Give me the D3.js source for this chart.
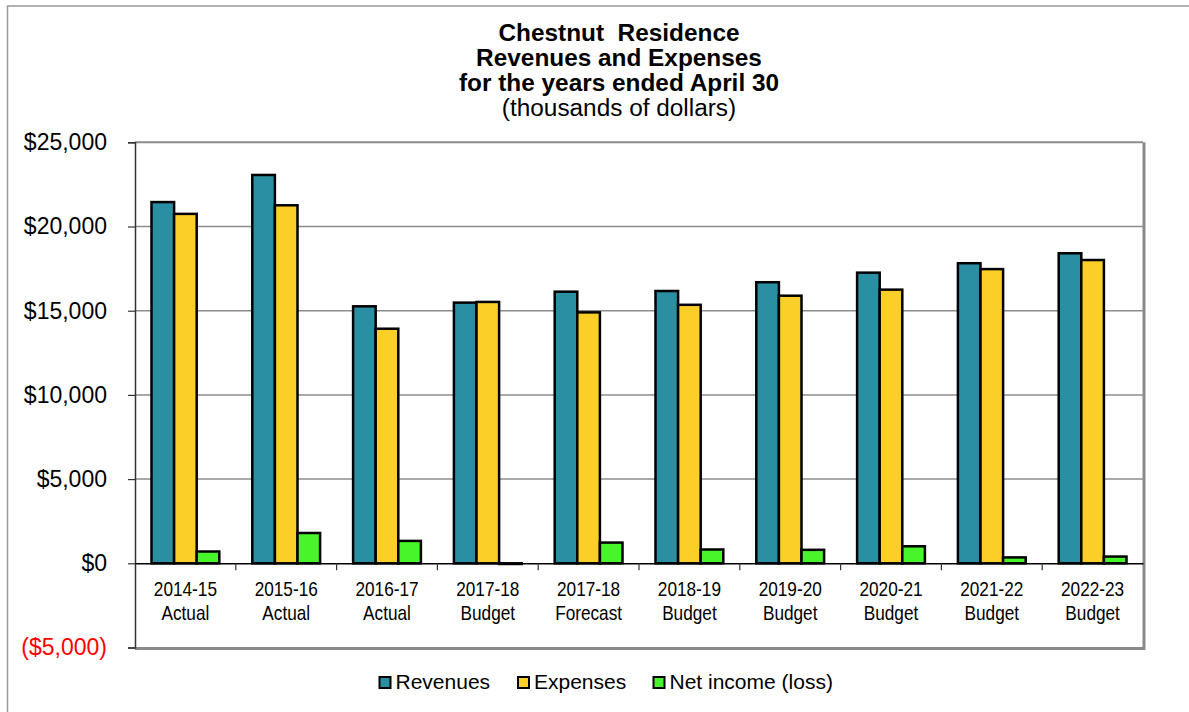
<!DOCTYPE html>
<html>
<head>
<meta charset="utf-8">
<script src="https://cdn.jsdelivr.net/npm/d3@7"></script>
<style>
  html, body { margin: 0; padding: 0; background: #fff; }
  svg { display: block; font-family: "Liberation Sans", Arial, sans-serif; }
  text { white-space: pre; }
</style>
</head>
<body>
<svg id="chart" width="1189" height="712"></svg>
<script>
// Fiscal periods (two-line labels)
const periods = ["2014-15", "2015-16", "2016-17", "2017-18", "2017-18", "2018-19", "2019-20", "2020-21", "2021-22", "2022-23"];
const periodTypes = ["Actual", "Actual", "Actual", "Budget", "Forecast", "Budget", "Budget", "Budget", "Budget", "Budget"];

// Values in thousands of dollars
const revenues = [21450, 23060, 15260, 15480, 16130, 16170, 16690, 17260, 17820, 18410];
const expenses = [20750, 21260, 13930, 15520, 14900, 15350, 15890, 16250, 17470, 18010];
const netIncome = [700, 1800, 1330, -40, 1230, 820, 800, 1010, 350, 400];

const seriesNames = ["Revenues", "Expenses", "Net income (loss)"];
const seriesColors = ["#2A8FA3", "#FCCE28", "#48F52B"];
const yTicks = [-5000, 0, 5000, 10000, 15000, 20000, 25000];

const titleLines = ["Chestnut  Residence", "Revenues and Expenses", "for the years ended April 30"];
const subtitle = "(thousands of dollars)";

const svg = d3.select("#chart");
const plot = { left: 135, right: 1143, top: 142.3, bottom: 647.5 };

// Outer frame
svg.append("rect")
  .attr("x", 7.5).attr("y", 6).attr("width", 1200).attr("height", 720)
  .attr("fill", "none").attr("stroke", "#999").attr("stroke-width", 1.5);

const keys = periods.map((p, i) => i);
const x = d3.scaleBand().domain(keys).range([plot.left, plot.right]).padding(0);
const x1 = d3.scaleBand().domain(seriesNames).range([0, x.bandwidth()]).paddingInner(0).paddingOuter(0.73);
const y = d3.scaleLinear().domain([-5000, 25000]).range([plot.bottom, plot.top]);

// Plot frame with shadowed right/bottom edges
svg.append("line").attr("x1", plot.left).attr("x2", plot.right + 1.5)
  .attr("y1", plot.bottom + 1).attr("y2", plot.bottom + 1)
  .attr("stroke", "#8a8a8a").attr("stroke-width", 3);
svg.append("line").attr("x1", plot.right + 1).attr("x2", plot.right + 1)
  .attr("y1", plot.top).attr("y2", plot.bottom + 2.5)
  .attr("stroke", "#8a8a8a").attr("stroke-width", 3);

// Gridlines
svg.append("g").selectAll("line")
  .data(yTicks.filter(t => t !== 0 && t !== -5000))
  .join("line")
  .attr("x1", plot.left).attr("x2", plot.right)
  .attr("y1", d => y(d)).attr("y2", d => y(d))
  .attr("stroke", "#8c8c8c").attr("stroke-width", d => d === 25000 ? 2 : 1.5);

// Y axis
const yAxis = d3.axisLeft(y).tickValues(yTicks).tickSize(7).tickPadding(21)
  .tickFormat(d => d < 0 ? "($" + d3.format(",")(-d) + ")" : "$" + d3.format(",")(d));
const gy = svg.append("g").attr("transform", `translate(${plot.left},0)`).call(yAxis);
gy.select(".domain").attr("stroke", "#333").attr("stroke-width", 1.5);
gy.selectAll(".tick line").attr("stroke", "#333").attr("stroke-width", 1.2);
gy.selectAll(".tick text")
  .attr("font-size", 23).attr("font-family", "'Liberation Sans', Arial, sans-serif")
  .attr("fill", d => d < 0 ? "#FF0000" : "#000");

// Bars
const data = keys.map(i => ({ i, vals: [revenues[i], expenses[i], netIncome[i]] }));
const groups = svg.append("g").selectAll("g")
  .data(data).join("g")
  .attr("transform", d => `translate(${x(d.i)},0)`);
groups.selectAll("rect")
  .data(d => d.vals.map((v, k) => ({ v, k })))
  .join("rect")
  .attr("x", d => x1(seriesNames[d.k]))
  .attr("width", x1.bandwidth())
  .attr("y", d => y(Math.max(0, d.v)))
  .attr("height", d => Math.abs(y(d.v) - y(0)))
  .attr("fill", d => seriesColors[d.k])
  .attr("stroke", "#000").attr("stroke-width", 2.5);

// Zero line with category ticks
const xAxis = d3.axisBottom(x).tickSize(0).tickFormat("");
const gx = svg.append("g").attr("transform", `translate(0,${y(0)})`).call(xAxis);
gx.select(".domain").attr("stroke", "#000").attr("stroke-width", 1.5);
svg.append("g").selectAll("line")
  .data(keys.slice(1))
  .join("line")
  .attr("x1", d => x(d)).attr("x2", d => x(d))
  .attr("y1", y(0)).attr("y2", y(0) + 7)
  .attr("stroke", "#333").attr("stroke-width", 1.2);

// Category labels (condensed)
const lab = svg.append("g").selectAll("g")
  .data(keys).join("g")
  .attr("transform", d => `translate(${x(d) + x.bandwidth() / 2},0) scale(0.82,1)`);
lab.append("text").attr("y", 596).attr("text-anchor", "middle")
  .attr("font-size", 21).text(d => periods[d]);
lab.append("text").attr("y", 620).attr("text-anchor", "middle")
  .attr("font-size", 21).text(d => periodTypes[d]);

// Title (slightly widened)
const title = svg.append("g").attr("text-anchor", "middle")
  .attr("transform", "translate(619,0) scale(1.06,1)");
titleLines.forEach((t, k) => {
  title.append("text").attr("x", 0).attr("y", 41 + k * 25)
    .attr("font-size", 23).attr("font-weight", "bold").text(t);
});
title.append("text").attr("x", 0).attr("y", 116)
  .attr("font-size", 23).text(subtitle);

// Legend
const legendX = [379.5, 518, 653.5];
const legend = svg.append("g").selectAll("g")
  .data(seriesNames).join("g")
  .attr("transform", (d, k) => `translate(${legendX[k]},677)`);
legend.append("rect").attr("width", 11).attr("height", 11)
  .attr("fill", (d, k) => seriesColors[k]).attr("stroke", "#000").attr("stroke-width", 2);
legend.append("text").attr("x", 16).attr("y", 11.5)
  .attr("font-size", 21).text(d => d);
</script>
</body>
</html>
